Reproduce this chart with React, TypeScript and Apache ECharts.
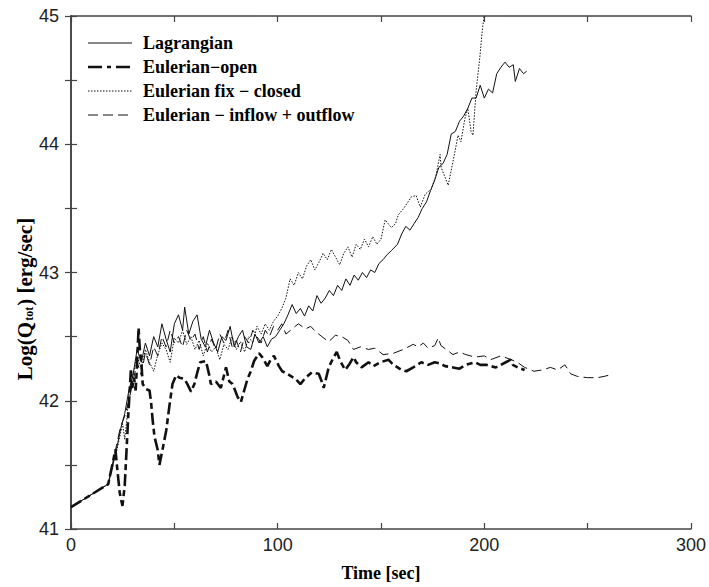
import React, { useEffect, useRef } from "react";
import * as echarts from "echarts";

// ---- Data (time in sec, Log(Q_tot) in erg/sec) ----
const seriesNames = [
  "Lagrangian",
  "Eulerian\u2212open",
  "Eulerian fix \u2212 closed",
  "Eulerian \u2212 inflow + outflow",
];

const xTicks = [0, 100, 200, 300];
const yTicks = [41, 42, 43, 44, 45];

const lagT = [0, 18, 20, 22, 24, 26, 28, 30, 32, 34, 36, 38, 40, 42, 44, 46, 48, 50, 52, 54, 55, 57, 59, 61, 63, 65, 67, 69, 71, 73, 75, 77, 79, 81, 83, 85, 87, 89, 91, 93, 95, 97, 99, 101, 103, 105, 107, 109, 111, 113, 115, 117, 119, 121, 123, 125, 127, 129, 131, 133, 135, 137, 139, 141, 143, 145, 147, 149, 151, 153, 155, 158, 160, 162, 164, 166, 168, 170, 172, 174, 176, 178, 180, 182, 184, 186, 188, 190, 192, 194, 196, 198, 200, 202, 204, 206, 208, 210, 212, 214, 215, 217, 219, 220.5];
const lagV = [41.17, 41.35, 41.48, 41.62, 41.78, 41.9, 42.08, 42.2, 42.4, 42.3, 42.45, 42.35, 42.5, 42.42, 42.6, 42.48, 42.38, 42.6, 42.67, 42.55, 42.73, 42.52, 42.62, 42.67, 42.48, 42.42, 42.55, 42.45, 42.38, 42.5, 42.47, 42.58, 42.42, 42.5, 42.55, 42.42, 42.4, 42.52, 42.45, 42.5, 42.42, 42.48, 42.5, 42.55, 42.6, 42.67, 42.75, 42.68, 42.72, 42.66, 42.74, 42.7, 42.82, 42.76, 42.8, 42.86, 42.82, 42.9, 42.86, 42.95, 42.9, 42.98, 42.94, 43.0, 42.96, 43.02, 43.0, 43.07, 43.1, 43.14, 43.17, 43.22, 43.3, 43.36, 43.33, 43.38, 43.43, 43.5, 43.55, 43.64, 43.72, 43.82, 43.85, 43.92, 44.08, 44.1, 44.18, 44.22, 44.28, 44.36, 44.36, 44.46, 44.36, 44.43, 44.4, 44.55, 44.6, 44.64, 44.6, 44.62, 44.49, 44.59, 44.55, 44.57];

const openT = [0, 18, 20, 21.5, 22.5, 23.6, 24.9, 26, 26.8, 27.6, 28.4, 29, 29.6, 30.5, 31.3, 32, 32.7, 33.3, 34, 34.7, 36.4, 38, 38.8, 39.5, 40.4, 41.9, 42.8, 44.3, 46.1, 47.7, 49.1, 50.9, 52.5, 54.9, 56.3, 58.1, 59.7, 61.1, 62.5, 65.3, 66.9, 67.7, 70.1, 72.5, 75, 76.6, 78.2, 80.6, 82.2, 83.8, 85.4, 87, 88.6, 91, 92.5, 95, 96.6, 98.2, 100.6, 102.2, 104.6, 108.7, 111, 113.5, 116.5, 119.9, 121.3, 122.3, 124.7, 127.1, 128.6, 130.3, 132.7, 134.5, 136.7, 138, 140.6, 144, 146.4, 149.7, 153.6, 156, 160, 162.3, 165.6, 169.5, 172.8, 176, 178.6, 181, 184.8, 188, 191, 195.5, 198, 200.9, 203, 205.6, 208, 210.4, 212.8, 213.8, 216.2, 219.5];
const openV = [41.17, 41.35, 41.5, 41.62, 41.45, 41.28, 41.18, 41.34, 41.59, 41.85, 42.08, 42.25, 42.1, 42.18, 42.08, 42.3, 42.57, 42.4, 42.31, 42.13, 42.09, 42.08, 41.98, 41.85, 41.72, 41.62, 41.5, 41.62, 41.77, 41.97, 42.13, 42.2, 42.18, 42.17, 42.13, 42.07, 42.13, 42.22, 42.3, 42.31, 42.2, 42.13, 42.15, 42.1, 42.26, 42.15, 42.13, 42.03, 41.99, 42.08, 42.17, 42.23, 42.31, 42.37, 42.34, 42.27, 42.32, 42.35, 42.27, 42.23, 42.21, 42.17, 42.13, 42.18, 42.22, 42.21, 42.15, 42.1, 42.26, 42.34, 42.38, 42.31, 42.24, 42.28, 42.34, 42.3, 42.26, 42.3, 42.27, 42.3, 42.32, 42.28, 42.24, 42.23, 42.26, 42.3, 42.28, 42.3, 42.29, 42.27, 42.26, 42.25, 42.28, 42.3, 42.28, 42.28, 42.27, 42.26, 42.28, 42.3, 42.32, 42.28, 42.26, 42.24];

const fixT = [0, 18, 20, 22, 24, 25, 26, 27, 28, 30, 32, 34, 36, 38, 40, 42, 44, 46, 48, 50, 52, 54, 56, 58, 60, 62, 64, 66, 68, 70, 72, 74, 76, 78, 80, 82, 84, 86, 88, 90, 92, 94, 96, 98, 100, 102, 104, 106, 108, 110, 112, 114, 116, 118, 120, 122, 124, 126, 128, 130, 132, 134, 136, 138, 140, 142, 144, 146, 148, 150, 152, 155, 157, 158.4, 161, 164.7, 167, 169, 171.4, 174.3, 176.5, 178.6, 179.1, 182.5, 184.9, 187.3, 188.7, 190.6, 192, 193.6, 194.5, 196, 197.9, 198.9, 199.8, 200.5];
const fixV = [41.17, 41.35, 41.5, 41.6, 41.75, 41.82, 41.7, 41.85, 42.05, 42.2, 42.35, 42.25, 42.4, 42.3, 42.23, 42.36, 42.45, 42.4, 42.3, 42.49, 42.45, 42.55, 42.44, 42.5, 42.4, 42.47, 42.35, 42.45, 42.38, 42.42, 42.32, 42.44, 42.4, 42.5, 42.4, 42.46, 42.38, 42.5, 42.45, 42.58, 42.52, 42.6, 42.55, 42.62, 42.66, 42.72, 42.8, 42.95, 42.9, 43.0, 42.95, 43.05, 43.1, 43.02, 43.08, 43.15, 43.1, 43.18, 43.12, 43.06, 43.15, 43.2, 43.12, 43.22, 43.18, 43.26, 43.2, 43.28, 43.22, 43.26, 43.41, 43.35, 43.38, 43.45, 43.5, 43.59, 43.6, 43.51, 43.61, 43.65, 43.75, 43.92, 43.82, 43.68, 43.87, 44.07, 44.02, 44.2, 44.28, 44.1, 44.07, 44.41, 44.69, 44.87, 44.99, 45.15];

const inoutT = [0, 18, 20, 22, 24, 26, 28, 30, 32, 34, 36, 38, 40, 42, 44, 46, 48, 50, 52, 54, 56, 58, 60, 62, 64, 66, 68, 70, 72, 74, 76, 78, 80, 82, 84, 86, 88, 90, 92, 94, 96, 98, 100, 102, 104, 107, 110, 113.5, 116, 118.3, 121.4, 124.7, 127.9, 131, 134, 136.7, 140, 144, 147, 151, 156, 160.8, 165.6, 168, 170.5, 172.8, 176, 177.7, 179, 181.6, 184.8, 188, 191, 195.5, 200, 203, 208, 213, 216, 219.5, 224, 228, 232, 235.5, 239, 241.8, 245, 250, 254.7, 258, 260.5];
const inoutV = [41.17, 41.35, 41.5, 41.65, 41.8, 41.88, 42.0, 42.15, 42.3, 42.2, 42.38, 42.28, 42.42, 42.35, 42.5, 42.42, 42.55, 42.45, 42.5, 42.42, 42.55, 42.47, 42.52, 42.4, 42.5, 42.38, 42.48, 42.4, 42.52, 42.45, 42.55, 42.42, 42.47, 42.38, 42.5, 42.45, 42.55, 42.5, 42.45, 42.55, 42.5, 42.58, 42.55, 42.6, 42.52, 42.56, 42.6, 42.56, 42.58, 42.54, 42.5, 42.46, 42.51, 42.5, 42.47, 42.4, 42.42, 42.4, 42.41, 42.36, 42.37, 42.4, 42.44, 42.42, 42.45, 42.41, 42.43, 42.49, 42.43, 42.4, 42.36, 42.38, 42.36, 42.34, 42.35, 42.32, 42.35, 42.32, 42.3, 42.26, 42.23, 42.24, 42.26, 42.24, 42.28, 42.21, 42.19, 42.18, 42.18, 42.19, 42.2];

const zip = (t: number[], v: number[]) => t.map((x, i) => [x, v[i]]);

const LINE = "#111";
const AXIS = "#444";
const serif = '"Liberation Serif", "Times New Roman", serif';
const sans = '"Liberation Sans", Arial, sans-serif';

const styles = [
  { width: 1, type: "solid" as any },
  { width: 2.6, type: [12, 4, 6, 4] as any },
  { width: 1, type: [1.5, 1.5] as any },
  { width: 1, type: [10, 5] as any },
];

export default function App() {
  const ref = useRef<HTMLDivElement>(null);
  useEffect(() => {
    if (!ref.current) return;
    const chart = echarts.init(ref.current, undefined, { renderer: "svg" });
    const datasets = [zip(lagT, lagV), zip(openT, openV), zip(fixT, fixV), zip(inoutT, inoutV)];

    const grid = { left: 71, top: 16, width: 623, height: 521 };
    const tickCommon = { show: true, inside: true, length: 6, lineStyle: { color: AXIS, width: 1.2 } };
    const minorCommon = { show: true, splitNumber: 2, length: 6, lineStyle: { color: AXIS, width: 1.2 } };
    const lineCommon = { show: true, lineStyle: { color: AXIS, width: 1.6 } };

    const legendY = [43, 67, 91, 115];
    const legendGraphics: any[] = [];
    seriesNames.forEach((name, i) => {
      legendGraphics.push({
        type: "line",
        shape: { x1: 88, y1: legendY[i], x2: 132, y2: legendY[i] },
        style: {
          stroke: LINE,
          lineWidth: styles[i].width,
          lineDash: i === 1 ? [14, 5, 4, 5] : Array.isArray(styles[i].type) ? styles[i].type : null,
        },
        silent: true,
      });
      legendGraphics.push({
        type: "text",
        x: 143,
        y: legendY[i],
        style: {
          text: name,
          fontFamily: serif,
          fontWeight: "bold",
          fontSize: 18,
          fill: "#000",
          verticalAlign: "middle",
          align: "left",
        },
        silent: true,
      });
    });

    legendGraphics.push({
      type: "text",
      x: 22,
      y: 299,
      rotation: Math.PI / 2,
      style: {
        text: "{a|Log(Q}{b|tot}{a|) [erg/sec]}",
        align: "center",
        verticalAlign: "middle",
        fill: "#000",
        rich: {
          a: { fontFamily: serif, fontWeight: "bold", fontSize: 21, fill: "#000", lineHeight: 26, verticalAlign: "bottom" },
          b: { fontFamily: serif, fontWeight: "bold", fontSize: 12, fill: "#000", lineHeight: 24, verticalAlign: "bottom", padding: [0, 1, 0, 1] },
        },
      },
      silent: true,
    });

    chart.setOption({
      animation: false,
      backgroundColor: "#fff",
      grid,
      xAxis: [
        {
          type: "value",
          min: xTicks[0],
          max: xTicks[xTicks.length - 1],
          interval: 100,
          axisLine: lineCommon,
          axisTick: tickCommon,
          minorTick: minorCommon,
          splitLine: { show: false },
          axisLabel: { color: "#222", fontFamily: sans, fontSize: 18, margin: 7 },
          name: "Time [sec]",
          nameLocation: "middle",
          nameGap: 35,
          nameTextStyle: { fontFamily: serif, fontWeight: "bold", fontSize: 18, color: "#000" },
        },
        {
          type: "value",
          position: "top",
          min: xTicks[0],
          max: xTicks[xTicks.length - 1],
          interval: 100,
          axisLine: lineCommon,
          axisTick: tickCommon,
          minorTick: minorCommon,
          splitLine: { show: false },
          axisLabel: { show: false },
        },
      ],
      yAxis: [
        {
          type: "value",
          min: yTicks[0],
          max: yTicks[yTicks.length - 1],
          interval: 1,
          axisLine: lineCommon,
          axisTick: tickCommon,
          minorTick: minorCommon,
          splitLine: { show: false },
          axisLabel: { color: "#222", fontFamily: sans, fontSize: 18, margin: 12 },
        },
        {
          type: "value",
          position: "right",
          min: yTicks[0],
          max: yTicks[yTicks.length - 1],
          interval: 1,
          axisLine: lineCommon,
          axisTick: tickCommon,
          minorTick: minorCommon,
          splitLine: { show: false },
          axisLabel: { show: false },
        },
      ],
      series: seriesNames.map((name, i) => ({
        name,
        type: "line",
        xAxisIndex: 0,
        yAxisIndex: 0,
        data: datasets[i],
        showSymbol: false,
        symbol: "none",
        clip: true,
        lineStyle: { color: LINE, width: styles[i].width, type: styles[i].type },
        z: i === 1 ? 3 : 2,
      })),
      graphic: legendGraphics,
    });
    return () => chart.dispose();
  }, []);
  return (
    <div
      ref={ref}
      style={{ position: "absolute", left: 0, top: 0, width: 709, height: 587, background: "#fff" }}
    />
  );
}
